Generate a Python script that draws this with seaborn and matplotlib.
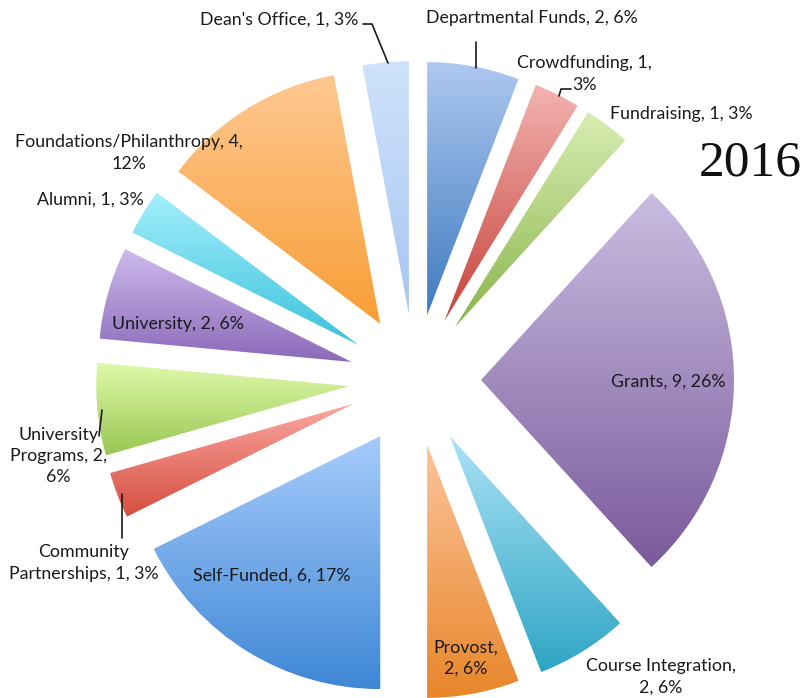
import numpy as np
import matplotlib
matplotlib.use("Agg")
import matplotlib.pyplot as plt
import matplotlib.colors as mcolors
import seaborn as sns

# ---- data (clockwise from 12 o'clock) ----
names = ["Departmental Funds", "Crowdfunding", "Fundraising", "Grants",
         "Course Integration", "Provost", "Self-Funded",
         "Community Partnerships", "University Programs", "University",
         "Alumni", "Foundations/Philanthropy", "Dean's Office"]
counts = [2, 1, 1, 9, 2, 2, 6, 1, 2, 2, 1, 4, 1]
pcts = [6, 3, 3, 26, 6, 6, 17, 3, 6, 6, 3, 12, 3]
title_year = "2016"

top_colors = ["#AEC8F0", "#F3B3B0", "#D8EDB3", "#C9BDE1", "#ABE2F6", "#FCC49B",
              "#A6CBFB", "#FAA7A1", "#E0FAAB", "#CEBAED", "#A3EFFC", "#FEC891", "#CFE2FC"]
bot_colors = ["#3F7BC0", "#C6423A", "#8AB54B", "#7A5A9B", "#2EA5C4", "#E8862A",
              "#3F87D6", "#D54E3F", "#98C753", "#8B69B8", "#3CC2DC", "#F89E36", "#A8C6F1"]

# label layout: (text with line breaks, x, y)
label_text = [
    "Departmental Funds, 2, 6%",
    "Crowdfunding, 1,\n3%",
    "Fundraising, 1, 3%",
    "Grants, 9, 26%",
    "Course Integration,\n2, 6%",
    "Provost,\n2, 6%",
    "Self-Funded, 6, 17%",
    "Community\nPartnerships, 1, 3%",
    "University\nPrograms, 2,\n6%",
    "University, 2, 6%",
    "Alumni, 1, 3%",
    "Foundations/Philanthropy, 4,\n12%",
    "Dean's Office, 1, 3%",
]
label_pos = [(532, 18), (584, 74), (681, 114), (668, 382), (661, 677), (466, 658),
             (272, 576), (84, 563), (58, 456), (178, 324), (90, 200), (129, 153), (279, 20)]

sns.set_theme(style="white")
plt.rcParams["font.family"] = ["Lato", "DejaVu Sans"]

W, H = 802, 698
fig = plt.figure(figsize=(W / 100, H / 100), dpi=100)
ax = fig.add_axes([0, 0, 1, 1])

R = 253
C = (415, 380)
wedges, _ = ax.pie(counts, radius=R, center=C, startangle=270, counterclock=True,
                   explode=[66] * len(counts),
                   wedgeprops=dict(facecolor="none", edgecolor="none", linewidth=0))
ax.set_xlim(0, W)
ax.set_ylim(H, 0)

for w, ct, cb in zip(wedges, top_colors, bot_colors):
    verts = w.get_patch_transform().transform(w.get_path().vertices)
    x0, y0 = verts.min(axis=0)
    x1, y1 = verts.max(axis=0)
    t = np.linspace(0, 1, 256)[:, None]
    c0 = np.array(mcolors.to_rgb(ct))
    c1 = np.array(mcolors.to_rgb(cb))
    grad = (c0 * (1 - t) + c1 * t)[:, None, :]
    grad = np.repeat(grad, 2, axis=1)
    im = ax.imshow(grad, extent=(x0, x1, y1, y0), origin="upper",
                   interpolation="bilinear", aspect="auto", zorder=1)
    im.set_clip_path(w)

ax.set_xlim(0, W)
ax.set_ylim(H, 0)
ax.set_aspect("auto")
ax.axis("off")

for txt, (x, y) in zip(label_text, label_pos):
    ax.text(x, y, txt, ha="center", va="center", multialignment="center",
            fontsize=12.8, color="#1a1a1a", linespacing=1.4, zorder=5)

# leader lines
lc = "#1a1a1a"
ax.plot([363, 372, 388], [24, 24, 63], color=lc, lw=1.2, zorder=4)
ax.plot([476, 476], [42, 68], color=lc, lw=1.2, zorder=4)
ax.plot([571, 561, 559], [89, 89, 96], color=lc, lw=1.2, zorder=4)
ax.plot([102, 99], [410, 436], color=lc, lw=1.2, zorder=4)
ax.plot([122, 122], [494, 538], color=lc, lw=1.2, zorder=4)

ax.text(750, 163, title_year, ha="center", va="center", fontsize=37,
        family=["Liberation Serif", "DejaVu Serif"], color="#111111")

fig.savefig("out.png", dpi=100)
